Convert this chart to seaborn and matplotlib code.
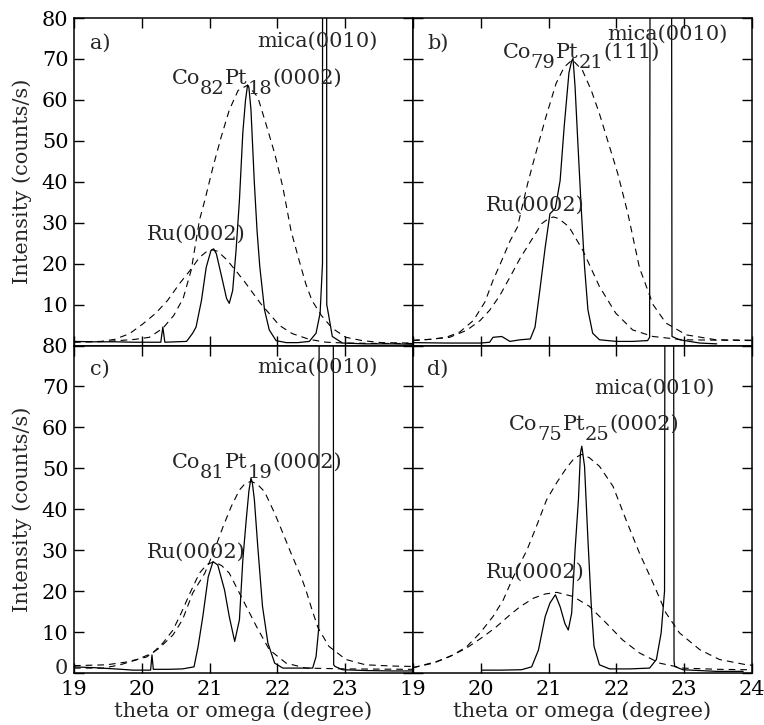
import numpy as np
import pandas as pd
import matplotlib
matplotlib.use('Agg')
import matplotlib.pyplot as plt
import matplotlib.transforms as mtransforms
import seaborn as sns

# ---- panel a) Co82Pt18 ----
a_solid_x = [19.0, 19.3, 19.6, 19.9, 20.2, 20.28, 20.31, 20.34, 20.5, 20.66, 20.75, 20.8, 20.88,
             20.95, 21.02, 21.06, 21.1, 21.19, 21.25, 21.29, 21.34, 21.39, 21.44, 21.49, 21.53,
             21.56, 21.58, 21.61, 21.66, 21.7, 21.74, 21.81, 21.88, 21.98, 22.13, 22.3, 22.47,
             22.57, 22.63, 22.665, 22.667, 22.725, 22.728, 22.76, 22.81, 22.96, 23.3, 23.7, 24.0]
a_solid_y = [1.0, 0.9, 0.9, 0.8, 0.8, 0.8, 4.5, 0.8, 0.9, 1.0, 3.0, 4.5, 11.0,
             19.1, 23.2, 23.6, 22.4, 15.9, 11.5, 10.3, 13.4, 23.2, 35.5, 52.0, 60.0,
             63.6, 63.0, 57.6, 39.7, 28.0, 19.3, 8.7, 3.8, 1.2, 0.7, 0.7, 1.0,
             3.0, 7.9, 20.0, 150.0, 150.0, 10.0, 7.0, 2.2, 0.6, 0.4, 0.4, 0.3]
a_copt_x = [19.0, 19.5, 19.9, 20.11, 20.31, 20.47, 20.61, 20.73, 20.85, 20.93, 21.05, 21.17,
            21.29, 21.42, 21.56, 21.71, 21.83, 21.96, 22.08, 22.2, 22.32, 22.42, 22.51, 22.65,
            22.81, 23.01, 23.25, 23.54, 24.0]
a_copt_y = [0.8, 1.0, 1.5, 2.0, 4.2, 7.3, 11.5, 18.5, 30.6, 35.5, 43.6, 50.9,
            57.5, 62.3, 63.6, 60.7, 54.2, 46.9, 38.7, 28.1, 20.8, 15.0, 11.0, 7.3,
            4.2, 2.0, 1.2, 0.7, 0.6]
a_ru_x = [19.0, 19.4, 19.6, 19.82, 20.01, 20.2, 20.38, 20.56, 20.71, 20.85, 20.96, 21.04, 21.12,
          21.25, 21.4, 21.52, 21.63, 21.75, 21.88, 22.03, 22.22, 22.47, 22.72, 23.0, 23.5, 24.0]
a_ru_y = [0.9, 1.0, 1.5, 2.9, 5.2, 7.8, 11.0, 15.2, 18.3, 21.5, 23.0, 23.4, 23.0,
          21.0, 18.0, 15.5, 13.0, 10.3, 7.8, 4.9, 2.9, 1.5, 0.8, 0.6, 0.5, 0.5]

# ---- panel b) Co79Pt21 ----
b_solid_x = [19.0, 19.5, 20.0, 20.13, 20.18, 20.31, 20.43, 20.58, 20.73, 20.8, 20.87, 20.95,
             21.02, 21.1, 21.17, 21.23, 21.3, 21.34, 21.36, 21.39, 21.43, 21.48, 21.53, 21.58,
             21.65, 21.75, 22.0, 22.24, 22.46, 22.49, 22.5, 22.81, 22.82, 22.93, 23.23, 23.48]
b_solid_y = [0.7, 0.6, 0.6, 0.8, 2.0, 2.2, 1.0, 1.4, 1.6, 4.5, 13.4, 24.0,
             32.2, 33.5, 40.3, 53.5, 66.6, 69.5, 70.1, 63.3, 50.0, 33.9, 19.3, 8.7,
             3.0, 1.4, 1.0, 1.0, 1.2, 2.0, 150.0, 150.0, 2.2, 1.4, 0.6, 0.4]
b_copt_x = [19.0, 19.25, 19.49, 19.69, 19.89, 20.06, 20.18, 20.31, 20.43, 20.54, 20.69, 20.81,
            20.96, 21.11, 21.23, 21.35, 21.5, 21.63, 21.75, 21.9, 22.02, 22.17, 22.34, 22.54,
            22.73, 23.03, 23.47, 24.0]
b_copt_y = [1.2, 1.5, 2.0, 3.3, 6.1, 10.6, 15.9, 20.8, 25.5, 28.9, 39.5, 46.9,
            55.8, 64.0, 68.0, 69.8, 67.2, 62.3, 56.6, 48.5, 42.0, 32.2, 19.0, 10.0,
            5.5, 2.6, 1.4, 1.3]
b_ru_x = [19.0, 19.25, 19.54, 19.79, 19.99, 20.13, 20.28, 20.43, 20.58, 20.73, 20.9, 21.0,
          21.07, 21.15, 21.3, 21.5, 21.75, 21.99, 22.24, 22.54, 22.98, 23.5, 24.0]
b_ru_y = [1.3, 1.5, 2.0, 3.7, 6.1, 8.6, 12.2, 16.7, 21.3, 25.3, 29.8, 31.0,
          31.4, 31.0, 29.0, 23.4, 14.4, 7.9, 3.8, 2.2, 1.4, 1.3, 1.2]

# ---- panel c) Co81Pt19 ----
c_solid_x = [19.0, 19.3, 19.5, 19.7, 19.87, 20.1, 20.13, 20.15, 20.17, 20.4, 20.6, 20.77,
             20.83, 20.9, 20.98, 21.05, 21.12, 21.22, 21.29, 21.37, 21.44, 21.49, 21.54, 21.58,
             21.61, 21.63, 21.66, 21.71, 21.78, 21.86, 21.96, 22.08, 22.3, 22.52, 22.57, 22.61,
             22.62, 22.82, 22.83, 22.85, 22.96, 23.3, 23.7, 24.0]
c_solid_y = [1.5, 1.3, 1.1, 0.9, 0.7, 0.7, 0.7, 4.4, 0.9, 0.9, 1.0, 1.5,
             6.4, 13.8, 23.5, 27.2, 26.4, 20.3, 13.8, 7.7, 13.0, 27.6, 37.4, 44.5,
             47.6, 46.5, 42.4, 31.0, 16.3, 7.3, 2.4, 1.2, 1.2, 1.2, 4.0, 11.0,
             150.0, 150.0, 2.0, 1.6, 0.8, 0.6, 0.5, 0.5]
c_copt_x = [19.0, 19.48, 19.78, 20.07, 20.26, 20.46, 20.6, 20.75, 20.93, 21.07, 21.2, 21.32,
            21.44, 21.52, 21.61, 21.7, 21.81, 21.96, 22.08, 22.2, 22.35, 22.42, 22.5, 22.6,
            22.76, 23.01, 23.3, 23.7, 24.0]
c_copt_y = [1.8, 2.0, 2.7, 3.9, 6.1, 9.3, 13.0, 19.5, 24.4, 30.0, 35.8, 40.7,
            44.7, 46.2, 46.8, 46.2, 44.3, 39.0, 34.2, 29.3, 23.5, 20.3, 16.0, 11.0,
            6.5, 3.3, 2.0, 1.7, 1.6]
c_ru_x = [19.0, 19.43, 19.68, 19.92, 20.16, 20.31, 20.46, 20.58, 20.71, 20.85, 20.96, 21.07,
          21.18, 21.29, 21.49, 21.69, 21.88, 22.13, 22.42, 23.0, 24.0]
c_ru_y = [1.2, 1.2, 2.0, 3.2, 4.9, 7.3, 10.5, 14.6, 19.5, 24.4, 26.5, 27.2,
          26.2, 24.4, 17.9, 11.4, 5.7, 2.4, 1.2, 1.0, 0.9]

# ---- panel d) Co75Pt25 ----
d_solid_x = [20.01, 20.3, 20.6, 20.75, 20.85, 20.95, 21.02, 21.1, 21.17, 21.24, 21.29, 21.34,
             21.39, 21.44, 21.47, 21.49, 21.53, 21.58, 21.63, 21.67, 21.75, 21.9, 22.2, 22.49,
             22.59, 22.66, 22.71, 22.72, 22.84, 22.85, 22.86, 22.98, 23.47, 23.87]
d_solid_y = [0.7, 0.7, 0.8, 1.5, 5.6, 13.8, 17.1, 19.1, 16.2, 12.1, 10.5, 14.6,
             30.0, 42.3, 53.8, 55.4, 50.5, 32.6, 16.3, 6.5, 2.0, 1.0, 1.0, 1.2,
             3.3, 9.8, 20.0, 150.0, 150.0, 3.0, 1.6, 0.8, 0.4, 0.4]
d_copt_x = [19.0, 19.05, 19.35, 19.59, 19.79, 19.99, 20.18, 20.33, 20.48, 20.68, 20.82, 20.97,
            21.12, 21.26, 21.38, 21.49, 21.6, 21.75, 21.95, 22.14, 22.34, 22.54, 22.73, 22.93,
            23.23, 23.52, 23.92, 24.0]
d_copt_y = [1.3, 1.5, 2.8, 4.4, 6.4, 9.8, 13.8, 17.8, 23.5, 30.0, 35.8, 42.3,
            46.5, 50.0, 52.5, 53.4, 52.6, 50.5, 45.6, 37.5, 29.3, 22.0, 14.7, 9.8,
            5.7, 3.3, 2.0, 1.9]
d_ru_x = [19.0, 19.05, 19.3, 19.54, 19.79, 20.04, 20.23, 20.43, 20.58, 20.78, 20.95, 21.12,
          21.36, 21.6, 21.85, 22.09, 22.34, 22.64, 22.98, 23.5, 23.92, 24.0]
d_ru_y = [1.3, 1.5, 2.4, 4.0, 6.1, 8.9, 11.3, 14.2, 16.2, 18.3, 19.3, 19.7,
          18.7, 16.3, 12.2, 8.1, 4.9, 2.4, 1.2, 0.9, 0.8, 0.8]

panel_tags = ['a)', 'b)', 'c)', 'd)']
# CoPt labels as (text, is_subscript) pieces
copt_labels = [
    [('Co', 0), ('82', 1), ('Pt', 0), ('18', 1), ('(0002)', 0)],
    [('Co', 0), ('79', 1), ('Pt', 0), ('21', 1), ('(111)', 0)],
    [('Co', 0), ('81', 1), ('Pt', 0), ('19', 1), ('(0002)', 0)],
    [('Co', 0), ('75', 1), ('Pt', 0), ('25', 1), ('(0002)', 0)],
]
x_ticks = [19, 20, 21, 22, 23, 24]
y_ticks = [0, 10, 20, 30, 40, 50, 60, 70, 80]

# text positions (data coords, baseline)
tag_pos = [(19.24, 72.6), (19.21, 72.6), (19.24, 72.9), (19.21, 72.9)]
mica_pos = [(21.7, 72.9), (21.87, 74.8), (21.7, 73.3), (21.68, 68.2)]
copt_pos = [(20.44, 64.0), (20.32, 70.2), (20.44, 50.1), (20.42, 59.4)]
ru_pos = [(20.07, 25.9), (20.07, 33.0), (20.07, 28.1), (20.07, 23.2)]

sns.set_theme(style='ticks')
plt.rcParams['font.family'] = ['DejaVu Serif']
plt.rcParams['font.size'] = 15

fig, axes = plt.subplots(2, 2, figsize=(7.64, 7.25), dpi=100)
fig.subplots_adjust(left=74 / 764, right=752 / 764, top=1 - 18 / 725, bottom=1 - 673 / 725,
                    wspace=0, hspace=0)
renderer = fig.canvas.get_renderer()


def chained_label(ax, x, y, pieces):
    # IDL-style label: subscripts nearly full size and dropped well below the baseline
    dx = 0.0
    for s, sub in pieces:
        tr = mtransforms.offset_copy(ax.transData, fig=fig, x=dx, y=-10 if sub else 0,
                                     units='dots')
        t = ax.text(x, y, s, transform=tr, fontsize=14 if sub else 15, va='baseline')
        dx += t.get_window_extent(renderer).width


curves = [
    (a_solid_x, a_solid_y, a_copt_x, a_copt_y, a_ru_x, a_ru_y),
    (b_solid_x, b_solid_y, b_copt_x, b_copt_y, b_ru_x, b_ru_y),
    (c_solid_x, c_solid_y, c_copt_x, c_copt_y, c_ru_x, c_ru_y),
    (d_solid_x, d_solid_y, d_copt_x, d_copt_y, d_ru_x, d_ru_y),
]

dash = (0, (6, 4.5))
for i, ax in enumerate(axes.flat):
    sx, sy, cx, cy, rx, ry = curves[i]
    sns.lineplot(x=sx, y=sy, ax=ax, color='black', lw=0.9, sort=False, estimator=None)
    sns.lineplot(x=cx, y=cy, ax=ax, color='black', lw=0.8, sort=False, estimator=None,
                 linestyle=dash)
    sns.lineplot(x=rx, y=ry, ax=ax, color='black', lw=0.8, sort=False, estimator=None,
                 linestyle=dash)

    ax.set_xlim(19, 24)
    ax.set_ylim(0, 80)
    ax.set_xticks(x_ticks)
    ax.set_yticks(y_ticks)
    ax.tick_params(direction='in', length=7, width=1, top=True, right=True,
                   labelsize=15, pad=4, colors='black')
    ax.tick_params(axis='x', pad=5)
    for sp in ax.spines.values():
        sp.set_visible(True)
        sp.set_linewidth(1.1)
        sp.set_color('black')

    row, col = divmod(i, 2)
    if col == 0:
        ylabs = [str(v) for v in y_ticks]
        ylabs[0] = ''
        ax.set_yticklabels(ylabs)
        ax.set_ylabel('Intensity (counts/s)', fontsize=15)
        ax.yaxis.set_label_coords(-0.125, 0.5)
        if row == 1:
            # the "0" sits a little high so it clears the "19" below it
            tr0 = mtransforms.offset_copy(ax.transAxes, fig=fig, x=-5.5, y=5, units='dots')
            ax.text(0, 0, '0', transform=tr0, ha='right', va='center', fontsize=15)
    else:
        ax.set_yticklabels([])
        ax.set_ylabel('')
    if row == 1:
        xlabs = [str(v) for v in x_ticks]
        if col == 0:
            xlabs[-1] = ''
        ax.set_xticklabels(xlabs)
        ax.set_xlabel('theta or omega (degree)', fontsize=15)
        ax.xaxis.set_label_coords(0.5, -0.085)
    else:
        ax.set_xticklabels([])
        ax.set_xlabel('')

    ax.text(*tag_pos[i], panel_tags[i], fontsize=15, va='baseline')
    ax.text(*mica_pos[i], 'mica(0010)', fontsize=15, va='baseline')
    chained_label(ax, *copt_pos[i], copt_labels[i])
    ax.text(*ru_pos[i], 'Ru(0002)', fontsize=15, va='baseline')

fig.savefig('out.png', dpi=100, facecolor='white')
